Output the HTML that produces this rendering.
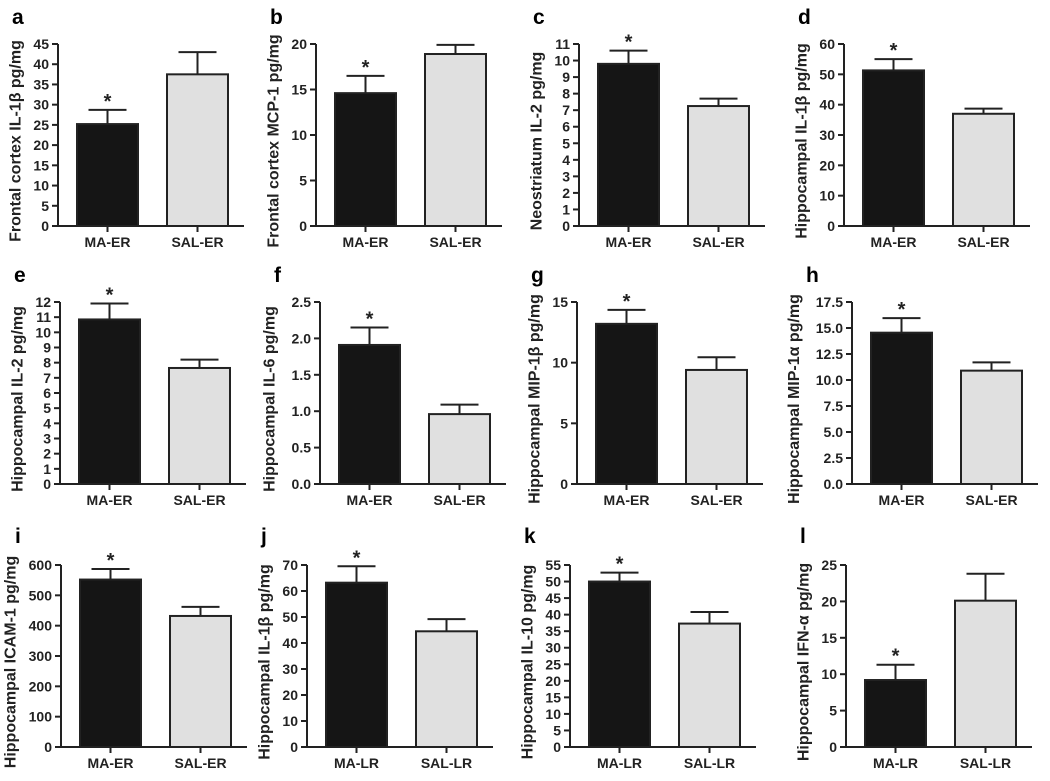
<!DOCTYPE html>
<html><head><meta charset="utf-8">
<style>
body{margin:0;background:#fff;}
svg{display:block;font-family:"Liberation Sans",Arial,sans-serif;font-weight:bold;}
</style></head>
<body>
<svg id="fig" width="1050" height="781" viewBox="0 0 1050 781"></svg>
<script>
const panelLetters = ["a","b","c","d","e","f","g","h","i","j","k","l"];
const yTitles = ["Frontal cortex IL-1β pg/mg","Frontal cortex MCP-1 pg/mg","Neostriatum IL-2 pg/mg","Hippocampal IL-1β pg/mg",
"Hippocampal IL-2 pg/mg","Hippocampal IL-6 pg/mg","Hippocampal MIP-1β pg/mg","Hippocampal MIP-1α pg/mg",
"Hippocampal ICAM-1 pg/mg","Hippocampal IL-1β pg/mg","Hippocampal IL-10 pg/mg","Hippocampal IFN-α pg/mg"];
const groupA = ["MA-ER","MA-ER","MA-ER","MA-ER","MA-ER","MA-ER","MA-ER","MA-ER","MA-ER","MA-LR","MA-LR","MA-LR"];
const groupB = ["SAL-ER","SAL-ER","SAL-ER","SAL-ER","SAL-ER","SAL-ER","SAL-ER","SAL-ER","SAL-ER","SAL-LR","SAL-LR","SAL-LR"];
const maValues = [25.2,14.6,9.8,51.3,10.85,1.91,13.2,14.55,552,63.2,50,9.2];
const maErrTop = [28.7,16.5,10.6,55,11.9,2.15,14.35,15.95,587,69.5,52.7,11.3];
const salValues = [37.5,18.9,7.25,37,7.65,0.96,9.4,10.9,432,44.5,37.3,20.1];
const salErrTop = [43,19.9,7.7,38.7,8.2,1.09,10.45,11.7,462,49.2,40.8,23.8];
const yMax = [45,20,11,60,12,2.5,15,17.5,600,70,55,25];
const yStep = [5,5,1,10,1,0.5,5,2.5,100,10,5,5];
const yDecimals = [0,0,0,0,0,1,0,1,0,0,0,0];
const maStar = [true,true,true,true,true,true,true,true,true,true,true,true];

// layout (pixel positions, not data)
const axisXs = [58,316,579,844, 60,320,577,852, 61,307,570,846];
const rowZero = [226,484,747];
const rowTop = [44,302,565];
const letterY = [24,282,543];

const svg = document.getElementById('fig');
const NS = 'http://www.w3.org/2000/svg';
function el(tag, attrs, parent){
  const e = document.createElementNS(NS, tag);
  for (const k in attrs) e.setAttribute(k, attrs[k]);
  (parent||svg).appendChild(e);
  return e;
}
for (let i=0;i<12;i++){
  const row = Math.floor(i/4);
  const ax = axisXs[i], y0 = rowZero[row], yT = rowTop[row];
  const yScale = v => y0 - (v / yMax[i]) * (y0 - yT);
  const g = el('g', {});
  
  
  const letter = el('text', {x: ax - 46, y: letterY[row], 'font-size': 21}, g);
  letter.textContent = panelLetters[i];
  
  
  const yax = el('line', {x1: ax, y1: yT, x2: ax, y2: y0, stroke: '#222', 'stroke-width': 2}, g);
  
  
  let maxLen = 0;
  const nT = Math.round(yMax[i] / yStep[i]);
  for (let t=0;t<=nT;t++){
    const v = t*yStep[i];
    const yy = yScale(v);
    el('line', {x1: ax-6, y1: yy, x2: ax, y2: yy, stroke: '#222', 'stroke-width': 2}, g);
    const lbl = v.toFixed(yDecimals[i]);
    maxLen = Math.max(maxLen, lbl.length);
    const tx = el('text', {x: ax-9, y: yy+5, 'font-size': 14, 'text-anchor': 'end', fill: '#222'}, g);
    tx.textContent = lbl;
    
    
  }
  const tw = maxLen * 7.8;
  const lx = ax - 9 - tw - 13;
  const ly = (y0 + yT) / 2 + 6;
  const yt = el('text', {x: lx, y: ly, 'font-size': 16, 'text-anchor': 'middle', transform: 'rotate(-90 '+lx+' '+ly+')', fill: '#222'}, g);
  yt.textContent = yTitles[i];
  
  
  const xax = el('line', {x1: ax, y1: y0, x2: ax+186, y2: y0, stroke: '#222', 'stroke-width': 2}, g);
  
  
  const bars = [
    {x: ax+19, v: maValues[i], e: maErrTop[i], fill: '#151515', name: groupA[i], star: maStar[i]},
    {x: ax+109, v: salValues[i], e: salErrTop[i], fill: '#e0e0e0', name: groupB[i], star: false}
  ];
  bars.forEach((b, bi) => {
    const cx = b.x + 30.5;
    const by = yScale(b.v), ey = yScale(b.e);
    el('line', {x1: cx, y1: by, x2: cx, y2: ey, stroke: '#222', 'stroke-width': 2}, g);
    el('line', {x1: cx-19, y1: ey, x2: cx+19, y2: ey, stroke: '#222', 'stroke-width': 2}, g);
    const r = el('rect', {x: b.x, y: by, width: 61, height: y0 - by, fill: b.fill, stroke: '#222', 'stroke-width': 2}, g);
    
    
    el('line', {x1: cx, y1: y0, x2: cx, y2: y0+6, stroke: '#222', 'stroke-width': 2}, g);
    const cl = el('text', {x: cx, y: y0+21, 'font-size': 14, 'text-anchor': 'middle', fill: '#222'}, g);
    cl.textContent = b.name;
    
    
    if (b.star){
      const st = el('text', {x: cx, y: ey - 2, 'font-size': 20, 'text-anchor': 'middle', fill: '#222'}, g);
      st.textContent = '*';
      
      
    }
  });
}
</script>
</body></html>
